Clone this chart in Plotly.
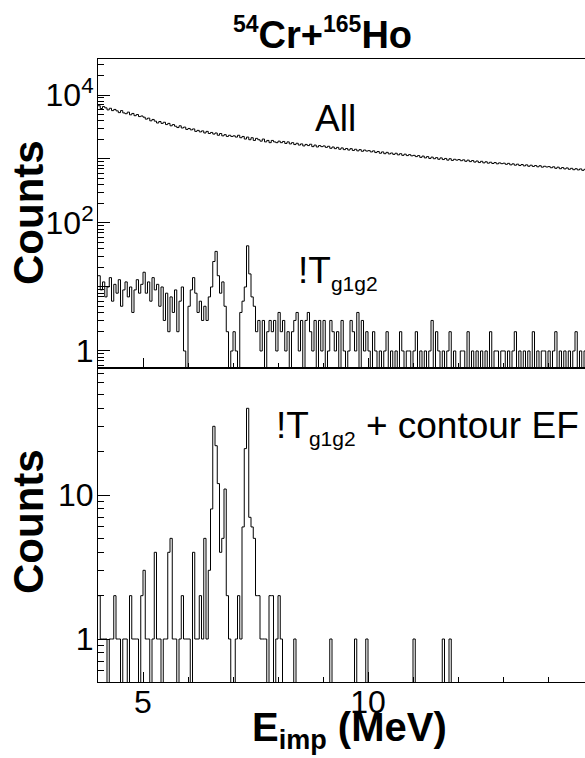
import plotly.graph_objects as go

# ---------------- data (0.05 MeV bins starting at 4.0 MeV) ----------------
BIN_START = 4.0
BIN_WIDTH = 0.05

all_counts = [
    6800, 6150, 6600, 6300, 5850, 6200, 5700, 5950, 5650, 5300, 5700, 5250, 5100, 5400, 4900, 5150, 4750, 4950, 4600, 4700,
    4500, 4200, 4350, 3950, 4150, 3900, 3650, 3850, 3600, 3750, 3450, 3600, 3300, 3450, 3250, 3100, 3300, 3050, 3150, 2900,
    3000, 2850, 2950, 2700, 2800, 2650, 2750, 2550, 2700, 2500, 2600, 2450, 2550, 2350, 2500, 2300, 2400, 2250, 2350, 2250,
    2300, 2200, 2350, 2150, 2250, 2050, 2200, 2000, 2150, 1950, 2100, 2000, 1900, 2050, 1850, 1950, 1800, 1950, 1850, 1800,
    1900, 1800, 1880, 1750, 1850, 1720, 1800, 1680, 1760, 1650, 1720, 1600, 1690, 1620, 1700, 1560, 1650, 1540, 1620, 1560,
    1600, 1520, 1580, 1470, 1540, 1450, 1520, 1420, 1490, 1400, 1460, 1380, 1450, 1360, 1420, 1340, 1400, 1320, 1380, 1330,
    1350, 1290, 1340, 1260, 1310, 1230, 1290, 1210, 1270, 1200, 1240, 1180, 1230, 1160, 1210, 1140, 1190, 1130, 1170, 1120,
    1140, 1090, 1130, 1060, 1110, 1040, 1090, 1020, 1070, 1010, 1050, 990, 1040, 980, 1020, 960, 1010, 950, 990, 960,
    980, 940, 970, 920, 960, 910, 945, 895, 930, 880, 920, 870, 905, 860, 890, 850, 880, 840, 870, 845,
    860, 825, 855, 810, 840, 800, 830, 790, 820, 780, 810, 770, 800, 765, 790, 755, 785, 745, 770, 750,
    760, 730, 755, 715, 745, 705, 735, 700, 725, 690, 715, 680, 705, 675, 700, 665, 690, 660, 680, 660,
]

tg_counts = [
    15, 9, 12, 7, 10, 14, 6, 11, 8, 13, 5, 9, 12, 7, 10, 4, 9, 13, 8, 11,
    17, 8, 12, 6, 14, 9, 11, 5, 10, 3, 8, 2, 7, 4, 9, 2, 6, 10, 1, 0,
    5, 9, 14, 8, 4, 6, 3, 5, 3, 7, 10, 25, 36, 15, 8, 12, 5, 2, 0, 1,
    2, 1, 0, 4, 6, 10, 44, 16, 7, 5, 2, 3, 1, 3, 0, 2, 3, 2, 3, 1,
    4, 2, 3, 1, 2, 0, 2, 3, 4, 1, 3, 0, 3, 4, 2, 1, 3, 0, 3, 1,
    3, 0, 1, 3, 2, 1, 2, 0, 3, 1, 0, 1, 3, 2, 1, 4, 0, 3, 1, 2,
    1, 0, 2, 1, 0, 1, 0, 1, 2, 0, 1, 0, 1, 0, 2, 1, 0, 1, 1, 0,
    1, 2, 0, 1, 0, 1, 0, 1, 3, 0, 2, 1, 0, 1, 0, 1, 2, 0, 1, 0,
    0, 1, 1, 0, 2, 0, 1, 0, 1, 0, 1, 0, 1, 0, 2, 0, 1, 1, 0, 1,
    1, 0, 1, 0, 1, 2, 0, 1, 0, 1, 0, 1, 0, 2, 0, 1, 0, 1, 1, 0,
    1, 0, 1, 2, 0, 1, 0, 1, 0, 1, 0, 1, 2, 0, 1, 0, 1, 0, 1, 0,
]

contour_counts = [
    2, 1, 1, 1, 0, 1, 1, 2, 1, 1, 0, 1, 1, 0, 2, 1, 1, 1, 0, 2,
    3, 1, 1, 0, 1, 4, 1, 1, 0, 1, 1, 4, 5, 1, 1, 0, 1, 2, 1, 1,
    1, 0, 4, 1, 1, 2, 1, 5, 1, 3, 8, 30, 22, 12, 4, 5, 11, 2, 1, 0,
    0, 1, 2, 1, 6, 21, 40, 7, 6, 5, 2, 2, 1, 1, 1, 0, 2, 2, 0, 1,
    2, 1, 0, 0, 0, 0, 0, 1, 0, 0, 0, 0, 0, 0, 0, 0, 0, 0, 0, 0,
    0, 0, 0, 1, 0, 0, 0, 0, 0, 0, 0, 0, 0, 0, 1, 0, 0, 0, 0, 1,
    0, 0, 0, 0, 0, 0, 0, 0, 0, 0, 0, 0, 0, 0, 0, 0, 0, 0, 0, 0,
    1, 0, 0, 0, 0, 0, 0, 0, 0, 0, 0, 0, 0, 1, 0, 0, 1, 0, 0, 0,
    0, 0, 0, 0, 0, 0, 0, 0, 0, 0, 0, 0, 0, 0, 0, 0, 0, 0, 0, 0,
    0, 0, 0, 0, 0, 0, 0, 0, 0, 0, 0, 0, 0, 0, 0, 0, 0, 0, 0, 0,
    0, 0, 0, 0, 0, 0, 0, 0, 0, 0, 0, 0, 0, 0, 0, 0, 0, 0, 0, 0,
]

x_major = [5, 10, 15]
x_minor = [4, 6, 7, 8, 9, 11, 12, 13, 14]
y1_major = [1, 10, 100, 1000, 10000]
y1_text = ["1", " ", "10<sup>2</sup>", " ", "10<sup>4</sup>"]
y2_major = [1, 10]
y2_text = ["1", "10"]

# ---------------- layout geometry ----------------
W, H = 585, 758
L, T, B = 98, 59, 76
PW = W - L
PH = H - T - B


def px_x(px):
    return (px - L) / PW


def px_y(py):
    return (H - B - py) / PH


split = px_y(368)
x_range = [4.0, 4.0 + PW / 45.0]

FONT = "Liberation Sans, Arial, sans-serif"


def step(counts):
    n = len(counts)
    xs = [BIN_START + i * BIN_WIDTH for i in range(n + 1)]
    ys = [c if c > 0 else 1e-3 for c in counts]
    ys = ys + [ys[-1]]
    return xs, ys


def minor_vals(lo_exp, hi_exp):
    vals = []
    for e in range(lo_exp, hi_exp + 1):
        for m in range(2, 10):
            vals.append(m * 10 ** e)
    return vals


fig = go.Figure()
line = dict(color="black", width=1, shape="hv")
xa, ya = step(all_counts)
fig.add_trace(go.Scatter(x=xa, y=ya, mode="lines", line=line, xaxis="x", yaxis="y", hoverinfo="skip"))
xt, yt = step(tg_counts)
fig.add_trace(go.Scatter(x=xt, y=yt, mode="lines", line=line, xaxis="x", yaxis="y", hoverinfo="skip"))
xc, yc = step(contour_counts)
fig.add_trace(go.Scatter(x=xc, y=yc, mode="lines", line=line, xaxis="x2", yaxis="y2", hoverinfo="skip"))

common_x = dict(
    range=x_range, showline=True, mirror=True, linecolor="black", linewidth=1,
    ticks="inside", tickvals=x_major, ticklen=10, tickcolor="black", tickwidth=1,
    minor=dict(tickvals=x_minor, ticks="inside", ticklen=5, tickcolor="black", tickwidth=1),
    showgrid=False, zeroline=False,
    tickfont=dict(family=FONT, size=32, color="black"),
)
common_y = dict(
    type="log", showline=True, mirror=False, linecolor="black", linewidth=1,
    ticks="inside", ticklen=12, tickcolor="black", tickwidth=1,
    showgrid=False, zeroline=False, ticklabelstandoff=-3,
    tickfont=dict(family=FONT, size=32, color="black"),
)

fig.update_layout(
    width=W, height=H,
    margin=dict(l=L, r=0, t=T, b=B, pad=0),
    paper_bgcolor="white", plot_bgcolor="white",
    showlegend=False,
    xaxis=dict(domain=[0, 1], anchor="y", showticklabels=False, **common_x),
    yaxis=dict(domain=[split, 1], anchor="x", range=[-0.266, 4.5625],
               tickvals=y1_major, ticktext=y1_text,
               minor=dict(tickvals=minor_vals(-1, 4), ticks="inside", ticklen=6, tickcolor="black", tickwidth=1),
               **common_y),
    xaxis2=dict(domain=[0, 1], anchor="y2", showticklabels=True, ticklabelstandoff=-8, **common_x),
    yaxis2=dict(domain=[0, split], anchor="x2", range=[-0.2986, 1.882],
                tickvals=y2_major, ticktext=y2_text,
                minor=dict(tickvals=minor_vals(-1, 1), ticks="inside", ticklen=6, tickcolor="black", tickwidth=1),
                **common_y),
)

ann_font = dict(family=FONT, size=37, color="black")
annotations = [
    dict(text="<b><sup><span style='font-size:23px'>54</span></sup>Cr+<sup><span style='font-size:23px'>165</span></sup>Ho</b>",
         x=px_x(322), y=px_y(33), xanchor="center", yanchor="middle",
         font=dict(family=FONT, size=38, color="black")),
    dict(text="All", x=px_x(313), y=px_y(119), xanchor="left", yanchor="middle", font=ann_font),
    dict(text="!T<sub><span style='font-size:21px'>g1g2</span></sub>", x=px_x(296), y=px_y(272),
         xanchor="left", yanchor="middle", font=ann_font),
    dict(text="!T<sub><span style='font-size:21px'>g1g2</span></sub> + contour EF", x=px_x(274), y=px_y(427),
         xanchor="left", yanchor="middle", font=ann_font),
    dict(text="<b>Counts</b>", x=px_x(28), y=px_y(213), xanchor="center", yanchor="middle",
         textangle=-90, font=dict(family=FONT, size=42, color="black")),
    dict(text="<b>Counts</b>", x=px_x(28), y=px_y(522), xanchor="center", yanchor="middle",
         textangle=-90, font=dict(family=FONT, size=42, color="black")),
    dict(text="<b>E<sub><span style='font-size:27px'>imp</span></sub> (MeV)</b>", x=px_x(250), y=px_y(730),
         xanchor="left", yanchor="middle", font=dict(family=FONT, size=40, color="black")),
]
for a in annotations:
    a.update(xref="paper", yref="paper", showarrow=False)
fig.update_layout(annotations=annotations)

fig.write_html("out.html")
